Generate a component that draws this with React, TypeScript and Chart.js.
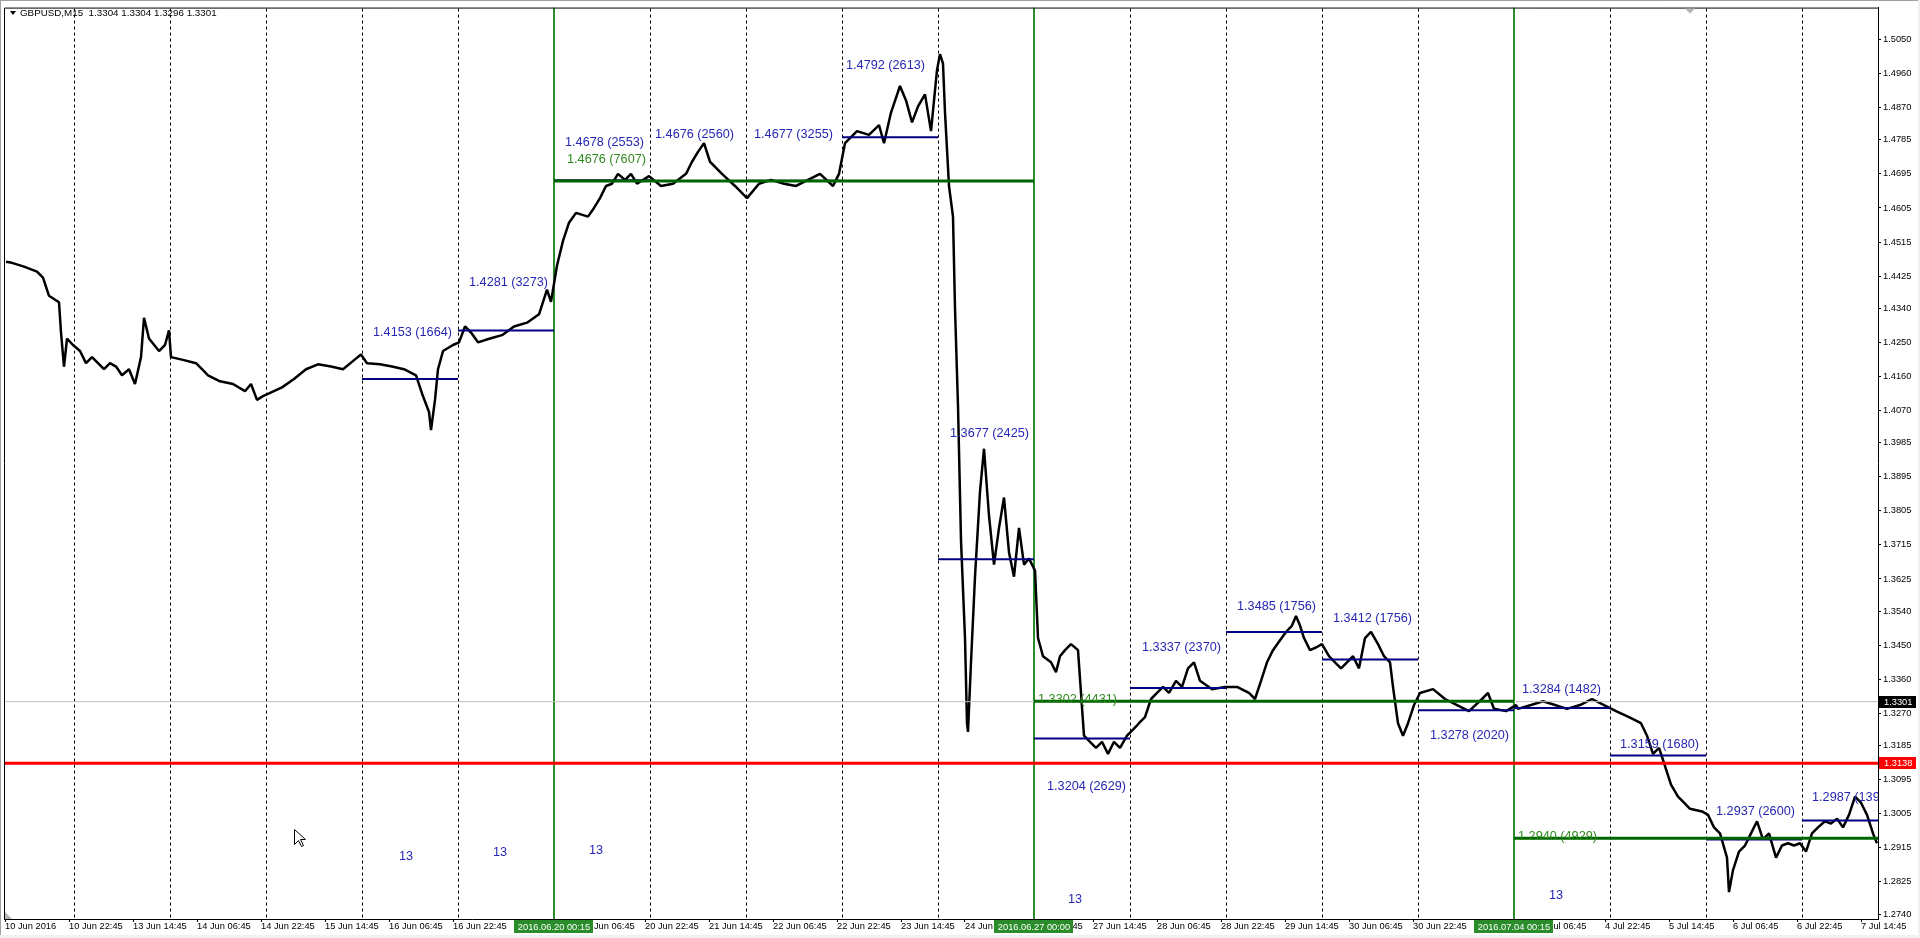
import { useEffect, useRef } from "react";
import { Chart, registerables } from "chart.js";

Chart.register(...registerables);

const FONT = "'Liberation Sans', Arial, sans-serif";

// ---- chart header ----
const symbolName = "GBPUSD,M15";
const headerOHLC = [1.3304, 1.3304, 1.3296, 1.3301];

// ---- price series (bar index on the M15 chart, price) ----
const barIdx = [
  1, 7, 19, 32, 38, 44, 54, 56, 59, 62, 68, 75, 81, 87, 93, 99, 105, 111, 117, 124,
  130, 136, 139, 144, 154, 160, 164, 166, 179, 191, 197, 203, 215, 228, 240, 246, 252, 258, 264, 277,
  289, 301, 313, 326, 338, 350, 356, 362, 375, 387, 399, 411, 417, 424, 426, 430, 433, 438, 448, 454,
  460, 466, 473, 485, 497, 509, 522, 534, 540, 542, 546, 552, 558, 564, 571, 583, 589, 595, 601, 607,
  613, 620, 626, 632, 644, 656, 668, 681, 687, 693, 699, 705, 717, 730, 742, 754, 766, 779, 791, 803,
  815, 828, 834, 840, 852, 864, 874, 879, 886, 895, 901, 907, 913, 920, 926, 932, 935, 938, 940, 944,
  948, 950, 953, 956, 960, 962, 963, 966, 970, 975, 979, 984, 989, 994, 999, 1004, 1009, 1014, 1019, 1024,
  1030, 1033, 1038, 1046, 1051, 1055, 1060, 1066, 1073, 1079, 1085, 1091, 1097, 1103, 1109, 1115, 1122, 1128, 1134, 1140,
  1146, 1152, 1158, 1164, 1171, 1177, 1183, 1189, 1195, 1207, 1220, 1232, 1244, 1250, 1256, 1262, 1268, 1275, 1281, 1287,
  1291, 1295, 1299, 1305, 1311, 1317, 1324, 1330, 1336, 1342, 1348, 1354, 1360, 1366, 1373, 1379, 1385, 1388, 1393, 1398,
  1403, 1409, 1415, 1428, 1440, 1452, 1464, 1477, 1483, 1489, 1501, 1511, 1513, 1526, 1538, 1550, 1562, 1575, 1587, 1599,
  1611, 1624, 1636, 1642, 1648, 1654, 1660, 1666, 1673, 1679, 1685, 1697, 1703, 1709, 1715, 1722, 1724, 1728, 1734, 1740,
  1746, 1752, 1758, 1764, 1771, 1777, 1783, 1789, 1795, 1801, 1807, 1813, 1820, 1826, 1832, 1838, 1844, 1850, 1856, 1862,
  1868, 1872,
];
const closePrice = [
  1.4463, 1.4460, 1.4450, 1.4437, 1.4421, 1.4373, 1.4356, 1.4276, 1.4186, 1.4260, 1.4243, 1.4227, 1.4195, 1.4211, 1.4195, 1.4179, 1.4195, 1.4186, 1.4163, 1.4179,
  1.4140, 1.4211, 1.4315, 1.4260, 1.4227, 1.4243, 1.4282, 1.4211, 1.4203, 1.4195, 1.4179, 1.4163, 1.4147, 1.4140, 1.4121, 1.4140, 1.4098, 1.4108, 1.4115, 1.4131,
  1.4153, 1.4179, 1.4192, 1.4186, 1.4179, 1.4205, 1.4218, 1.4195, 1.4192, 1.4186, 1.4179, 1.4163, 1.4115, 1.4066, 1.4018, 1.4098, 1.4179, 1.4227, 1.4243, 1.4250,
  1.4292, 1.4276, 1.4250, 1.4260, 1.4269, 1.4292, 1.4302, 1.4324, 1.4373, 1.4389, 1.4357, 1.4453, 1.4518, 1.4566, 1.4592, 1.4582, 1.4605, 1.4631, 1.4663, 1.4669,
  1.4695, 1.4679, 1.4695, 1.4669, 1.4689, 1.4663, 1.4669, 1.4695, 1.4727, 1.4753, 1.4776, 1.4727, 1.4695, 1.4663, 1.4631, 1.4669, 1.4679, 1.4669, 1.4663, 1.4679,
  1.4695, 1.4663, 1.4695, 1.4776, 1.4808, 1.4798, 1.4824, 1.4776, 1.4857, 1.4927, 1.4889, 1.4831, 1.4873, 1.4905, 1.4808, 1.4969, 1.5011, 1.4986, 1.4857, 1.4663,
  1.4582, 1.4340, 1.4082, 1.3727, 1.3469, 1.3244, 1.3221, 1.3405, 1.3631, 1.3856, 1.3969, 1.3792, 1.3663, 1.3760, 1.3840, 1.3695, 1.3631, 1.3760, 1.3663, 1.3679,
  1.3647, 1.3469, 1.3421, 1.3405, 1.3379, 1.3421, 1.3437, 1.3453, 1.3437, 1.3211, 1.3195, 1.3179, 1.3195, 1.3163, 1.3195, 1.3179, 1.3211, 1.3227, 1.3244, 1.3260,
  1.3308, 1.3324, 1.3340, 1.3324, 1.3356, 1.3340, 1.3389, 1.3405, 1.3356, 1.3334, 1.3340, 1.3340, 1.3324, 1.3308, 1.3356, 1.3405, 1.3437, 1.3463, 1.3485, 1.3502,
  1.3527, 1.3502, 1.3469, 1.3437, 1.3444, 1.3453, 1.3421, 1.3405, 1.3389, 1.3405, 1.3421, 1.3389, 1.3469, 1.3485, 1.3453, 1.3421, 1.3405, 1.3340, 1.3244, 1.3211,
  1.3244, 1.3292, 1.3324, 1.3334, 1.3308, 1.3292, 1.3276, 1.3308, 1.3324, 1.3282, 1.3276, 1.3292, 1.3282, 1.3292, 1.3302, 1.3292, 1.3282, 1.3292, 1.3308, 1.3292,
  1.3276, 1.3260, 1.3244, 1.3211, 1.3163, 1.3179, 1.3131, 1.3082, 1.3050, 1.3034, 1.3018, 1.3011, 1.3002, 1.2969, 1.2953, 1.2889, 1.2798, 1.2856, 1.2905, 1.2921,
  1.2953, 1.2985, 1.2937, 1.2953, 1.2889, 1.2921, 1.2927, 1.2921, 1.2927, 1.2905, 1.2953, 1.2969, 1.2985, 1.2979, 1.2992, 1.2969, 1.3002, 1.3050, 1.3034, 1.3002,
  1.2953, 1.2927,
];

// ---- axes ----
const yTickValues = [
  1.5050, 1.4960, 1.4870, 1.4785, 1.4695, 1.4605, 1.4515, 1.4425, 1.4340, 1.4250, 1.4160, 1.4070, 1.3985, 1.3895,
  1.3805, 1.3715, 1.3625, 1.3540, 1.3450, 1.3360, 1.3270, 1.3185, 1.3095, 1.3005, 1.2915, 1.2825, 1.2740,
];
const xTickIdx = [
  0, 64, 128, 192, 256, 320, 384, 448, 512, 576, 640, 704, 768, 832, 896, 960, 1024, 1088, 1152, 1216,
  1280, 1344, 1408, 1472, 1536, 1600, 1664, 1728, 1792, 1856,
];
const xTickLabels = [
  "10 Jun 2016", "10 Jun 22:45", "13 Jun 14:45", "14 Jun 06:45", "14 Jun 22:45", "15 Jun 14:45", "16 Jun 06:45",
  "16 Jun 22:45", "17 Jun 14:45", "20 Jun 06:45", "20 Jun 22:45", "21 Jun 14:45", "22 Jun 06:45", "22 Jun 22:45",
  "23 Jun 14:45", "24 Jun 06:45", "24 Jun 22:45", "27 Jun 14:45", "28 Jun 06:45", "28 Jun 22:45", "29 Jun 14:45",
  "30 Jun 06:45", "30 Jun 22:45", "1 Jul 14:45", "4 Jul 06:45", "4 Jul 22:45", "5 Jul 14:45", "6 Jul 06:45",
  "6 Jul 22:45", "7 Jul 14:45",
];
const xMin = -1;
const xMax = 1873;
const dayStartIdx = [69, 165, 261, 357, 453, 645, 741, 837, 933, 1125, 1221, 1317, 1413, 1605, 1701, 1797];
const weekStartIdx = [549, 1029, 1509];
const weekStartLabels = ["2016.06.20 00:15", "2016.06.27 00:00", "2016.07.04 00:15"];

// ---- daily levels ----
const dailyFrom = [357, 453, 549, 645, 741, 837, 933, 1029, 1125, 1221, 1317, 1413, 1509, 1605, 1701, 1797];
const dailyTo = [453, 549, 645, 741, 837, 933, 1029, 1125, 1221, 1317, 1413, 1509, 1605, 1701, 1797, 1873];
const dailyLevel = [1.4153, 1.4281, 1.4678, 1.4676, 1.4677, 1.4792, 1.3677, 1.3204, 1.3337, 1.3485, 1.3412, 1.3278, 1.3284, 1.3159, 1.2937, 1.2987];
const dailyCount = [1664, 3273, 2553, 2560, 3255, 2613, 2425, 2629, 2370, 1756, 1756, 2020, 1482, 1680, 2600, 1390];
const dailyLabelIdx = [368, 464, 560, 650, 749, 841, 945, 1042, 1137, 1232, 1328, 1425, 1517, 1615, 1711, 1807];
const dailyLabelPrice = [1.4276, 1.4408, 1.4779, 1.4798, 1.4798, 1.4982, 1.4008, 1.3076, 1.3444, 1.3553, 1.3521, 1.3211, 1.3334, 1.3189, 1.3011, 1.3047];

// ---- weekly levels ----
const weeklyFrom = [549, 1029, 1509];
const weeklyTo = [1029, 1509, 1873];
const weeklyLevel = [1.4676, 1.3302, 1.2940];
const weeklyCount = [7607, 4431, 4929];
const weeklyLabelIdx = [562, 1033, 1513];
const weeklyLabelPrice = [1.4734, 1.3308, 1.2944];

// ---- other objects ----
const redLevel = 1.3138;
const bidPrice = 1.3301;
const markText = ["13", "13", "13", "13", "13"];
const markIdx = [401, 495, 591, 1070, 1551];
const markPrice = [1.2892, 1.2902, 1.2908, 1.2779, 1.2789];

const yMax = 1.513419;
const yMin = 1.272693;

const NAVY = "#000080";
const DKGREEN = "#006400";
const VGREEN = "#2a8c2a";
const TXTBLUE = "#2626b4";
const TXTGREEN = "#2f8a1f";

const overlay = {
  id: "mt4overlay",
  beforeDatasetsDraw(chart: any) {
    const { ctx, chartArea: a } = chart;
    const x = chart.scales.x;
    ctx.save();
    ctx.beginPath();
    ctx.rect(a.left, a.top, a.right - a.left, a.bottom - a.top);
    ctx.clip();
    ctx.strokeStyle = "#000";
    ctx.lineWidth = 1;
    ctx.setLineDash([3, 3]);
    for (const d of dayStartIdx) {
      const px = Math.round(x.getPixelForValue(d)) + 0.5;
      ctx.beginPath();
      ctx.moveTo(px, a.top + 1);
      ctx.lineTo(px, a.bottom);
      ctx.stroke();
    }
    ctx.setLineDash([]);
    ctx.strokeStyle = VGREEN;
    ctx.lineWidth = 2;
    for (const w of weekStartIdx) {
      const px = Math.round(x.getPixelForValue(w));
      ctx.beginPath();
      ctx.moveTo(px, a.top);
      ctx.lineTo(px, a.bottom);
      ctx.stroke();
    }
    ctx.restore();
  },
  afterDatasetsDraw(chart: any) {
    const { ctx, chartArea: a } = chart;
    const x = chart.scales.x;
    const y = chart.scales.y;
    ctx.save();
    ctx.beginPath();
    ctx.rect(a.left, a.top, a.right - a.left, a.bottom - a.top);
    ctx.clip();
    ctx.font = `12.7px ${FONT}`;
    ctx.textBaseline = "middle";
    ctx.textAlign = "left";
    ctx.fillStyle = TXTBLUE;
    dailyLevel.forEach((lv, i) => {
      ctx.fillText(`${lv.toFixed(4)} (${dailyCount[i]})`, x.getPixelForValue(dailyLabelIdx[i]), y.getPixelForValue(dailyLabelPrice[i]));
    });
    ctx.fillStyle = TXTGREEN;
    weeklyLevel.forEach((lv, i) => {
      ctx.fillText(`${lv.toFixed(4)} (${weeklyCount[i]})`, x.getPixelForValue(weeklyLabelIdx[i]), y.getPixelForValue(weeklyLabelPrice[i]));
    });
    ctx.fillStyle = TXTBLUE;
    ctx.textAlign = "center";
    markText.forEach((t, i) => {
      ctx.fillText(t, x.getPixelForValue(markIdx[i]), y.getPixelForValue(markPrice[i]));
    });
    ctx.restore();
  },
  afterDraw(chart: any) {
    const { ctx, chartArea: a } = chart;
    const x = chart.scales.x;
    const y = chart.scales.y;
    const W = chart.width;
    const H = chart.height;
    ctx.save();
    ctx.strokeStyle = "#000";
    ctx.lineWidth = 1;
    ctx.beginPath();
    ctx.moveTo(a.left + 0.5, a.bottom);
    ctx.lineTo(a.left + 0.5, a.top + 0.5);
    ctx.lineTo(a.right, a.top + 0.5);
    ctx.stroke();

    ctx.font = `9.3px ${FONT}`;
    ctx.textBaseline = "middle";
    ctx.textAlign = "center";
    weekStartIdx.forEach((w, i) => {
      const px = Math.round(x.getPixelForValue(w));
      const tw = ctx.measureText(weekStartLabels[i]).width + 7;
      ctx.fillStyle = VGREEN;
      ctx.fillRect(Math.round(px - tw / 2), a.bottom + 1, Math.round(tw), 13);
      ctx.fillStyle = "#fff";
      ctx.fillText(weekStartLabels[i], px, a.bottom + 8);
    });

    ctx.textAlign = "left";
    const boxes: [number, string][] = [[bidPrice, "#000"], [redLevel, "#ff0000"]];
    for (const [p, c] of boxes) {
      const py = Math.round(y.getPixelForValue(p));
      ctx.fillStyle = c;
      ctx.fillRect(a.right + 1, py - 6, 37, 12);
      ctx.fillStyle = "#fff";
      ctx.fillText(p.toFixed(4), a.right + 6, py + 0.5);
    }

    ctx.fillStyle = "#000";
    ctx.beginPath();
    ctx.moveTo(10, 11);
    ctx.lineTo(16, 11);
    ctx.lineTo(13, 15);
    ctx.closePath();
    ctx.fill();
    ctx.font = `9.8px ${FONT}`;
    ctx.textAlign = "left";
    ctx.fillText(`${symbolName}  ${headerOHLC.map((v) => v.toFixed(4)).join(" ")}`, 20, 13.5);

    ctx.fillStyle = "#b4b4b4";
    ctx.beginPath();
    ctx.moveTo(1685, a.top + 1);
    ctx.lineTo(1695, a.top + 1);
    ctx.lineTo(1690, a.top + 6);
    ctx.closePath();
    ctx.fill();
    ctx.beginPath();
    ctx.moveTo(a.left + 1, a.bottom - 7);
    ctx.lineTo(a.left + 1, a.bottom);
    ctx.lineTo(a.left + 8, a.bottom);
    ctx.closePath();
    ctx.fill();

    ctx.save();
    ctx.translate(294.5, 829.5);
    ctx.beginPath();
    ctx.moveTo(0, 0);
    ctx.lineTo(0, 15);
    ctx.lineTo(4, 11);
    ctx.lineTo(7, 17);
    ctx.lineTo(9, 16);
    ctx.lineTo(6, 10);
    ctx.lineTo(11, 10);
    ctx.closePath();
    ctx.fillStyle = "#fff";
    ctx.fill();
    ctx.strokeStyle = "#000";
    ctx.lineWidth = 1;
    ctx.stroke();
    ctx.restore();

    ctx.fillStyle = "#a0a0a0";
    ctx.fillRect(0, 0, W, 1);
    ctx.fillRect(0, 0, 1, H);
    ctx.fillStyle = "#f0f0f0";
    ctx.fillRect(0, H - 3, W, 3);
    ctx.fillRect(W - 2, 0, 2, H);
    ctx.restore();
  },
};

export default function App() {
  const ref = useRef<HTMLCanvasElement | null>(null);
  useEffect(() => {
    document.body.style.margin = "0";
    document.body.style.background = "#fff";
    const canvas = ref.current;
    if (!canvas) return;

    const seg = (from: number, to: number, p: number) => [
      { x: from, y: p },
      { x: to, y: p },
    ];
    const lineBase = { pointRadius: 0, fill: false, tension: 0, borderCapStyle: "butt" as const };

    const datasets: any[] = [
      {
        ...lineBase,
        label: "price",
        data: barIdx.map((b, i) => ({ x: b, y: closePrice[i] })),
        borderColor: "#000",
        borderWidth: 2.5,
        borderJoinStyle: "bevel",
        order: 10,
      },
      { ...lineBase, label: "bid", data: seg(xMin, xMax, bidPrice), borderColor: "#c0c0c0", borderWidth: 1, order: 8 },
      ...dailyLevel.map((lv, i) => ({
        ...lineBase,
        label: "d" + i,
        data: seg(dailyFrom[i], dailyTo[i], lv),
        borderColor: NAVY,
        borderWidth: 2,
        order: 6,
      })),
      ...weeklyLevel.map((lv, i) => ({
        ...lineBase,
        label: "w" + i,
        data: seg(weeklyFrom[i], weeklyTo[i], lv),
        borderColor: DKGREEN,
        borderWidth: 3,
        order: 4,
      })),
      { ...lineBase, label: "red", data: seg(xMin, xMax, redLevel), borderColor: "#ff0000", borderWidth: 3, order: 2 },
    ];

    const chart = new Chart(canvas, {
      type: "line",
      data: { datasets },
      options: {
        responsive: false,
        maintainAspectRatio: false,
        animation: false,
        devicePixelRatio: 1,
        events: [],
        layout: { padding: { left: 4, top: 4, right: 0, bottom: 0 } },
        plugins: { legend: { display: false }, tooltip: { enabled: false } },
        scales: {
          x: {
            type: "linear",
            position: "bottom",
            min: xMin,
            max: xMax,
            afterBuildTicks: (s: any) => {
              s.ticks = xTickIdx.map((v) => ({ value: v }));
            },
            afterFit: (s: any) => {
              s.height = 19;
            },
            grid: { drawOnChartArea: false, drawTicks: true, tickLength: 3, color: "#000", lineWidth: 1 },
            border: { display: true, color: "#000", width: 1 },
            ticks: {
              autoSkip: false,
              maxRotation: 0,
              minRotation: 0,
              align: "start",
              padding: -1,
              color: "#000",
              font: { family: FONT, size: 9.3 },
              callback: (_v: any, i: number) => xTickLabels[i],
            },
          },
          y: {
            type: "linear",
            position: "right",
            min: yMin,
            max: yMax,
            afterBuildTicks: (s: any) => {
              s.ticks = yTickValues.map((v) => ({ value: v }));
            },
            afterFit: (s: any) => {
              s.width = 42;
            },
            grid: { drawOnChartArea: false, drawTicks: true, tickLength: 3, color: "#000", lineWidth: 1 },
            border: { display: true, color: "#000", width: 1 },
            ticks: {
              padding: 2,
              color: "#000",
              font: { family: FONT, size: 9.3 },
              callback: (v: any) => Number(v).toFixed(4),
            },
          },
        },
      } as any,
      plugins: [overlay],
    });
    return () => chart.destroy();
  }, []);

  return (
    <canvas
      ref={ref}
      width={1920}
      height={938}
      style={{ display: "block", width: 1920, height: 938, background: "#fff" }}
    />
  );
}
